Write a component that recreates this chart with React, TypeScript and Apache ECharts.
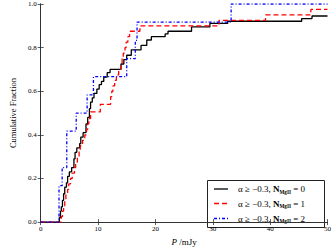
import React, { useEffect, useRef } from "react";
import * as echarts from "echarts";

const xTicks = [0, 10, 20, 30, 40, 50];
const yTicks = [0, 0.2, 0.4, 0.6, 0.8, 1.0];

const seriesNames = ["0", "1", "2"];
const seriesColors = ["#000000", "#ff0000", "#0000ff"];

const blackX = [0, 3.25, 3.45, 3.6, 3.8, 4.0, 4.2, 4.5, 4.7, 5.0, 5.4, 5.8, 6.0, 6.3, 6.8, 7.0, 7.4, 7.9, 8.2, 8.5, 8.7, 9.0, 9.3, 9.8, 10.2, 10.6, 11.0, 11.6, 12.1, 14.0, 14.5, 15.0, 15.8, 17.5, 18.5, 19.3, 21.7, 22.2, 26.3, 29.5, 32.6, 45.5, 47.3, 50];
const blackY = [0, 0.02, 0.05, 0.07, 0.1, 0.13, 0.16, 0.18, 0.21, 0.23, 0.25, 0.29, 0.32, 0.34, 0.36, 0.39, 0.41, 0.45, 0.48, 0.52, 0.55, 0.57, 0.59, 0.61, 0.63, 0.645, 0.665, 0.685, 0.7, 0.725, 0.745, 0.765, 0.79, 0.81, 0.835, 0.85, 0.863, 0.875, 0.895, 0.911, 0.921, 0.933, 0.945, 0.945];

const redX = [0, 3.6, 3.8, 4.0, 4.2, 4.4, 4.7, 4.9, 5.2, 5.5, 5.9, 6.1, 6.4, 6.7, 6.9, 7.3, 7.7, 8.0, 8.2, 8.4, 8.7, 10.4, 12.2, 12.4, 12.6, 12.9, 13.2, 13.6, 14.0, 14.2, 14.4, 14.7, 14.9, 15.2, 15.5, 17.3, 31.1, 39.2, 47.1, 50];
const redY = [0, 0.025, 0.05, 0.075, 0.1, 0.125, 0.15, 0.175, 0.2, 0.225, 0.25, 0.275, 0.3, 0.325, 0.35, 0.375, 0.4, 0.425, 0.45, 0.475, 0.505, 0.54, 0.575, 0.6, 0.625, 0.65, 0.675, 0.7, 0.725, 0.75, 0.775, 0.8, 0.825, 0.85, 0.875, 0.9, 0.925, 0.95, 0.975, 0.975];

const blueX = [0, 3.2, 3.75, 4.55, 6.2, 8.1, 9.2, 15.0, 16.5, 16.8, 33.2, 50];
const blueY = [0, 0.167, 0.25, 0.417, 0.5, 0.583, 0.667, 0.75, 0.833, 0.917, 1.0, 1.0];

const FONT = "Liberation Serif";
const DASHES: any[] = ["solid", [5, 3], [3, 2, 1, 2]];

function pairs(xs: number[], ys: number[]) {
  return xs.map((x, i) => [x, ys[i]]);
}

export default function App() {
  const ref = useRef<HTMLDivElement>(null);
  useEffect(() => {
    if (!ref.current) return;
    const chart = echarts.init(ref.current, null, { renderer: "svg" });
    const axisLine = { show: true, lineStyle: { color: "#333", width: 1 } };
    const tick = { show: true, inside: true, length: 3, lineStyle: { color: "#333", width: 0.8 } };
    const mk = (name: string, xs: number[], ys: number[], color: string, type: any) => ({
      name,
      type: "line",
      step: "end",
      data: pairs(xs, ys),
      showSymbol: false,
      symbol: "none",
      lineStyle: { color, width: 1.3, type },
      itemStyle: { color },
    });

    const legendLeft = 207;
    const legendTop = 180;
    const rowY = [189, 203.5, 218.5];
    const legendChildren: any[] = [
      {
        type: "rect",
        shape: { x: legendLeft + 0.5, y: legendTop + 0.5, width: 117, height: 47 },
        style: { fill: "#fff", stroke: "#222", lineWidth: 1 },
      },
    ];
    seriesNames.forEach((n, i) => {
      const y = rowY[i];
      legendChildren.push({
        type: "line",
        shape: { x1: 214, y1: y, x2: 228, y2: y },
        style: {
          stroke: seriesColors[i],
          lineWidth: 1.3,
          lineDash: DASHES[i] === "solid" ? null : DASHES[i],
        },
      });
      legendChildren.push({
        type: "text",
        x: 238,
        y: y,
        style: {
          text: `{a|α ≥ −0.3, }{b|N}{s|MgII}{a| = ${n}}`,
          verticalAlign: "middle",
          rich: {
            a: { fontFamily: FONT, fontSize: 9, fill: "#000", lineHeight: 10 },
            b: { fontFamily: FONT, fontSize: 9, fontWeight: "bold", fill: "#000", lineHeight: 10 },
            s: { fontFamily: FONT, fontSize: 5.2, fontWeight: "bold", fill: "#000", lineHeight: 5, verticalAlign: "bottom" },
          },
        },
      });
    });

    chart.setOption({
      animation: false,
      backgroundColor: "#fff",
      grid: { left: 21, right: 5, top: 4, bottom: 19 },
      xAxis: [
        {
          type: "value",
          min: xTicks[0],
          max: xTicks[xTicks.length - 1],
          interval: 10,
          axisLine,
          axisTick: tick,
          splitLine: { show: false },
          axisLabel: { fontFamily: FONT, fontSize: 7, color: "#000", margin: 3 },
          name: "{i|P} /mJy",
          nameLocation: "middle",
          nameGap: 9,
          nameTextStyle: {
            fontFamily: FONT,
            fontSize: 9,
            color: "#000",
            rich: { i: { fontStyle: "italic", fontFamily: FONT, fontSize: 9 } },
          },
        },
        {
          type: "value",
          position: "top",
          min: 0,
          max: 50,
          interval: 10,
          axisLine,
          axisTick: tick,
          axisLabel: { show: false },
          splitLine: { show: false },
        },
      ],
      yAxis: [
        {
          type: "value",
          min: yTicks[0],
          max: yTicks[yTicks.length - 1],
          interval: 0.2,
          axisLine,
          axisTick: tick,
          splitLine: { show: false },
          axisLabel: {
            fontFamily: FONT,
            fontSize: 7,
            color: "#000",
            margin: 4,
            formatter: (v: number) => v.toFixed(1),
          },
          name: "Cumulative Fraction",
          nameLocation: "middle",
          nameGap: 11,
          nameTextStyle: { fontFamily: FONT, fontSize: 8.5, color: "#000" },
        },
        {
          type: "value",
          position: "right",
          min: 0,
          max: 1,
          interval: 0.2,
          axisLine,
          axisTick: tick,
          axisLabel: { show: false },
          splitLine: { show: false },
        },
      ],
      series: [
        mk(seriesNames[0], blackX, blackY, seriesColors[0], DASHES[0]),
        mk(seriesNames[1], redX, redY, seriesColors[1], DASHES[1]),
        mk(seriesNames[2], blueX, blueY, seriesColors[2], DASHES[2]),
      ],
      graphic: [{ type: "group", z: 100, children: legendChildren }],
    });
    return () => chart.dispose();
  }, []);
  return (
    <div
      ref={ref}
      style={{ position: "fixed", left: 0, top: 0, width: 334, height: 251 }}
    />
  );
}
